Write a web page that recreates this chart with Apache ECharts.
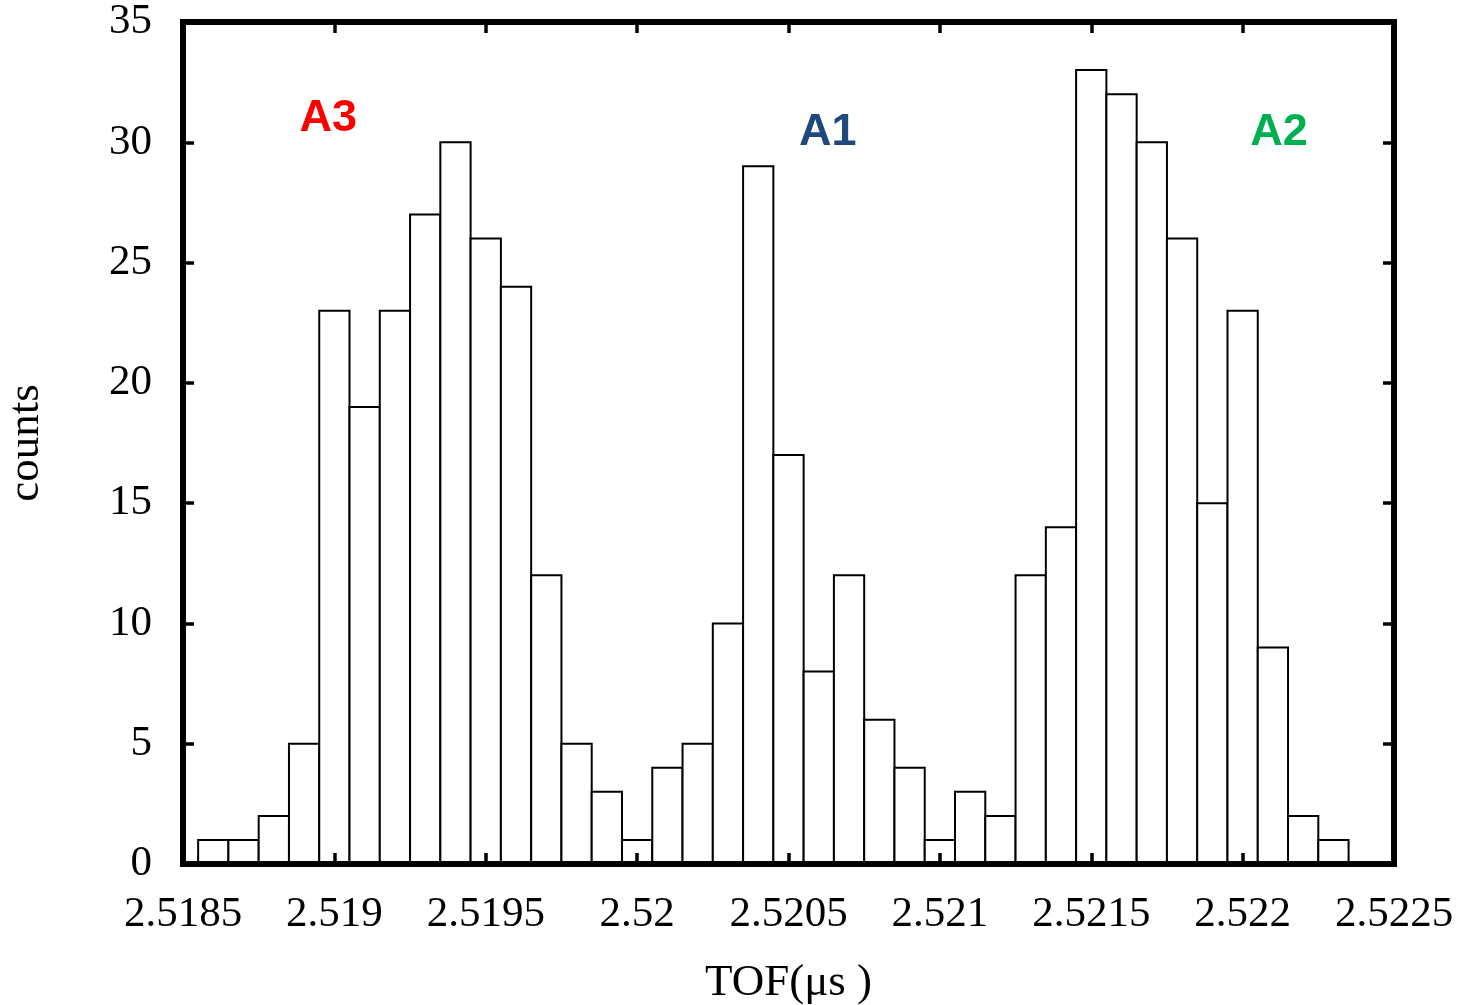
<!DOCTYPE html>
<html>
<head>
<meta charset="utf-8">
<script src="https://cdn.jsdelivr.net/npm/echarts@6/dist/echarts.min.js"></script>
<style>html,body{margin:0;padding:0;background:#fff}#c{width:1470px;height:1005px}</style>
</head>
<body>
<div id="c"></div>
<script>
// Bin centres (TOF, µs) and counts
var binCenters = [2.5186, 2.5187, 2.5188, 2.5189, 2.5190, 2.5191, 2.5192, 2.5193, 2.5194, 2.5195,
                  2.5196, 2.5197, 2.5198, 2.5199, 2.5200, 2.5201, 2.5202, 2.5203, 2.5204, 2.5205,
                  2.5206, 2.5207, 2.5208, 2.5209, 2.5210, 2.5211, 2.5212, 2.5213, 2.5214, 2.5215,
                  2.5216, 2.5217, 2.5218, 2.5219, 2.5220, 2.5221, 2.5222, 2.5223];
var counts = [1, 1, 2, 5, 23, 19, 23, 27, 30, 26,
              24, 12, 5, 3, 1, 4, 5, 10, 29, 17,
              8, 12, 6, 4, 1, 3, 2, 12, 14, 33,
              32, 30, 26, 15, 23, 9, 2, 1];
var binWidth = 0.0001;

// Peak annotations
var peakNames = ['A3', 'A1', 'A2'];
var peakX = [2.51898, 2.52063, 2.52212];
var peakY = [31.0, 30.4, 30.4];
var peakColors = ['#ff0000', '#1f497d', '#00b050'];

var xMin = 2.5185, xMax = 2.5225, xStep = 0.0005;
var yMin = 0, yMax = 35, yStep = 5;

var serif = '"Liberation Serif", "Times New Roman", serif';
var chart = echarts.init(document.getElementById('c'));

var histData = binCenters.map(function (x, i) { return [x, counts[i]]; });
var peakData = peakNames.map(function (n, i) {
  return { value: [peakX[i], peakY[i]], name: n,
           label: { color: peakColors[i] } };
});

function fmt(v) { return String(parseFloat(v.toFixed(4))); }

var axisLineStyle = { show: true, onZero: false, lineStyle: { color: '#000', width: 6, cap: 'square' } };
var tickStyle = { show: true, inside: true, length: 11, lineStyle: { color: '#000', width: 3.5 } };

chart.setOption({
  animation: false,
  backgroundColor: '#fff',
  grid: { left: 183, right: 76, top: 22, bottom: 141, containLabel: false, outerBoundsMode: 'none' },
  xAxis: [{
    type: 'value', min: xMin, max: xMax, interval: xStep, position: 'bottom', z: 10,
    axisLine: axisLineStyle, axisTick: tickStyle, splitLine: { show: false },
    axisLabel: { fontFamily: serif, fontSize: 43, color: '#000', margin: 29, formatter: fmt },
    name: 'TOF(μs )', nameLocation: 'middle', nameGap: 97,
    nameTextStyle: { fontFamily: serif, fontSize: 45, color: '#000' }
  }, {
    type: 'value', min: xMin, max: xMax, interval: xStep, position: 'top', z: 10,
    axisLine: axisLineStyle, axisTick: tickStyle, splitLine: { show: false },
    axisLabel: { show: false }
  }],
  yAxis: [{
    type: 'value', min: yMin, max: yMax, interval: yStep, position: 'left', z: 10,
    axisLine: axisLineStyle, axisTick: tickStyle, splitLine: { show: false },
    axisLabel: { fontFamily: serif, fontSize: 43, color: '#000', margin: 31 },
    name: 'counts', nameLocation: 'middle', nameGap: 134, nameRotate: 90,
    nameTextStyle: { fontFamily: serif, fontSize: 45, color: '#000' }
  }, {
    type: 'value', min: yMin, max: yMax, interval: yStep, position: 'right', z: 10,
    axisLine: axisLineStyle, axisTick: tickStyle, splitLine: { show: false },
    axisLabel: { show: false }
  }],
  series: [{
    type: 'custom',
    xAxisIndex: 0, yAxisIndex: 0,
    data: histData,
    encode: { x: 0, y: 1 },
    renderItem: function (params, api) {
      var x = api.value(0), y = api.value(1);
      var p1 = api.coord([x - binWidth / 2, y]);
      var p2 = api.coord([x + binWidth / 2, 0]);
      return {
        type: 'rect',
        shape: { x: p1[0], y: p1[1], width: p2[0] - p1[0], height: p2[1] - p1[1] },
        style: { fill: '#fff', stroke: '#000', lineWidth: 2 }
      };
    },
    z: 1
  }, {
    type: 'scatter',
    xAxisIndex: 0, yAxisIndex: 0,
    symbolSize: 0,
    itemStyle: { opacity: 1 },
    data: peakData,
    label: {
      show: true, position: 'inside', formatter: '{b}', opacity: 1,
      fontFamily: '"Liberation Sans", Arial, sans-serif', fontWeight: 'bold', fontSize: 45
    },
    z: 5
  }]
});
</script>
</body>
</html>
